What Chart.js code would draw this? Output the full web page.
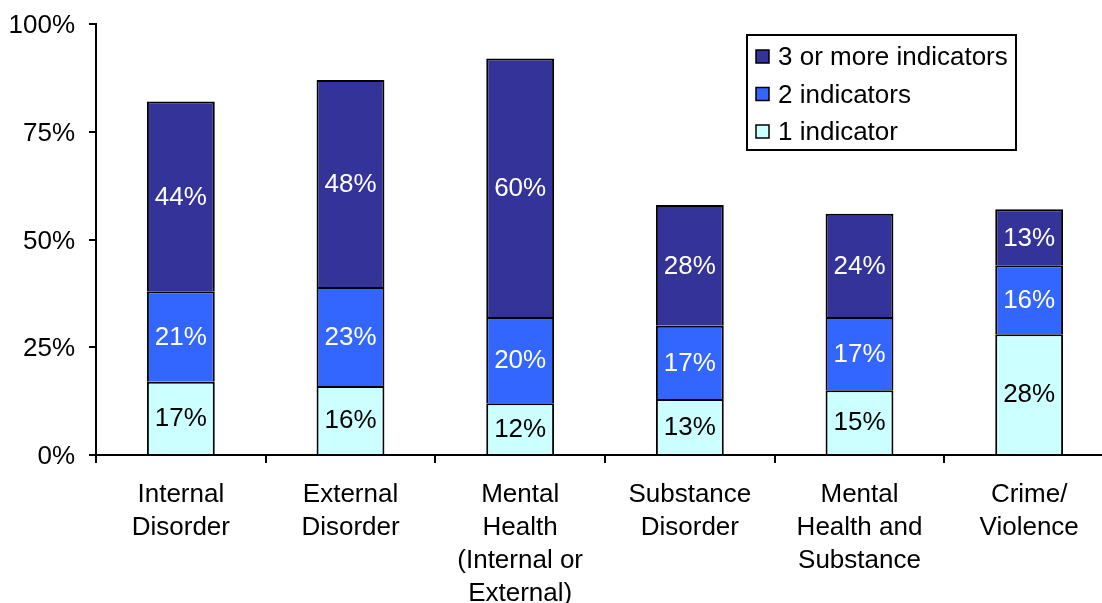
<!DOCTYPE html>
<html>
<head>
<meta charset="utf-8">
<script src="https://cdn.jsdelivr.net/npm/chart.js@4"></script>
<style>
  html, body { margin: 0; padding: 0; background: #fff; overflow: hidden; }
  #wrap { width: 1130px; height: 640px; }
</style>
</head>
<body>
<div id="wrap"><canvas id="chart" width="1130" height="640"></canvas></div>
<script>
const categories = [
  ['Internal', 'Disorder'],
  ['External', 'Disorder'],
  ['Mental', 'Health', '(Internal or', 'External)'],
  ['Substance', 'Disorder'],
  ['Mental', 'Health and', 'Substance'],
  ['Crime/', 'Violence']
];
const seriesNames = ['1 indicator', '2 indicators', '3 or more indicators'];
const oneIndicator = [17, 16, 12, 13, 15, 28];
const twoIndicators = [21, 23, 20, 17, 17, 16];
const threeOrMore = [44, 48, 60, 28, 24, 13];
const yTicks = [0, 25, 50, 75, 100];

const FONT = "'Liberation Sans', Arial, sans-serif";
const colors = ['#CCFFFF', '#3366FF', '#333399'];
const labelColors = ['#000000', '#ffffff', '#ffffff'];

// value labels centred in each stacked segment
const segmentLabels = {
  id: 'segmentLabels',
  afterDatasetsDraw(chart) {
    const ctx = chart.ctx;
    ctx.save();
    ctx.font = '26px ' + FONT;
    ctx.textAlign = 'center';
    ctx.textBaseline = 'middle';
    chart.data.datasets.forEach((ds, i) => {
      const meta = chart.getDatasetMeta(i);
      meta.data.forEach((bar, j) => {
        const p = bar.getProps(['x', 'y', 'base'], true);
        ctx.fillStyle = labelColors[i];
        ctx.fillText(ds.data[j] + '%', p.x, (p.y + p.base) / 2 + 1);
      });
    });
    ctx.restore();
  }
};

// boxed legend, top series first
const boxLegend = {
  id: 'boxLegend',
  afterDraw(chart, args, opts) {
    const ctx = chart.ctx;
    ctx.save();
    ctx.fillStyle = '#fff';
    ctx.fillRect(opts.x, opts.y, opts.w, opts.h);
    ctx.lineWidth = 2;
    ctx.strokeStyle = '#000';
    ctx.strokeRect(opts.x, opts.y, opts.w, opts.h);
    ctx.font = '26px ' + FONT;
    ctx.textBaseline = 'middle';
    const items = chart.data.datasets.slice().reverse();
    items.forEach((ds, k) => {
      const cy = opts.y + opts.first + k * opts.step;
      ctx.fillStyle = ds.backgroundColor;
      ctx.fillRect(opts.x + 9, cy - 6.5, 13, 13);
      ctx.lineWidth = 1.5;
      ctx.strokeRect(opts.x + 9, cy - 6.5, 13, 13);
      ctx.fillStyle = '#000';
      ctx.fillText(ds.label, opts.x + 31, cy + 1.5);
    });
    ctx.restore();
  }
};

new Chart(document.getElementById('chart'), {
  type: 'bar',
  data: {
    labels: categories,
    datasets: [oneIndicator, twoIndicators, threeOrMore].map((d, i) => ({
      label: seriesNames[i],
      data: d,
      backgroundColor: colors[i],
      borderColor: '#000',
      // top and sides only; the segment below supplies the shared edge
      borderWidth: { top: 2, left: 2, right: 2, bottom: 0 },
      borderSkipped: false,
      inflateAmount: 0,
      categoryPercentage: 1,
      barPercentage: 0.4
    }))
  },
  options: {
    responsive: false,
    animation: false,
    layout: { padding: { top: 24, right: 16, left: 0, bottom: 0 } },
    plugins: {
      legend: { display: false },
      tooltip: { enabled: false },
      boxLegend: { x: 747, y: 35, w: 269, h: 115, first: 21.5, step: 37.5 }
    },
    scales: {
      x: {
        stacked: true,
        afterFit(scale) { scale.height = 185; },
        border: { display: true, color: '#000', width: 2 },
        grid: { display: true, drawOnChartArea: false, drawTicks: true, tickLength: 8, color: '#000', lineWidth: 2, offset: true },
        ticks: { color: '#000', padding: 15, maxRotation: 0, autoSkip: false, font: { family: FONT, size: 26, lineHeight: 1.27 } }
      },
      y: {
        stacked: true,
        min: 0,
        max: 100,
        afterFit(scale) {
          scale.width = 96;
          scale.paddingTop = 0;
          scale.paddingBottom = 0;
        },
        afterBuildTicks(scale) { scale.ticks = yTicks.map(v => ({ value: v })); },
        border: { display: true, color: '#000', width: 2 },
        grid: { display: true, drawOnChartArea: false, drawTicks: true, tickLength: 7, color: '#000', lineWidth: 2 },
        ticks: { color: '#000', padding: 14, labelOffset: 2, callback: v => v + '%', font: { family: FONT, size: 26 } }
      }
    }
  },
  plugins: [segmentLabels, boxLegend]
});
</script>
</body>
</html>
